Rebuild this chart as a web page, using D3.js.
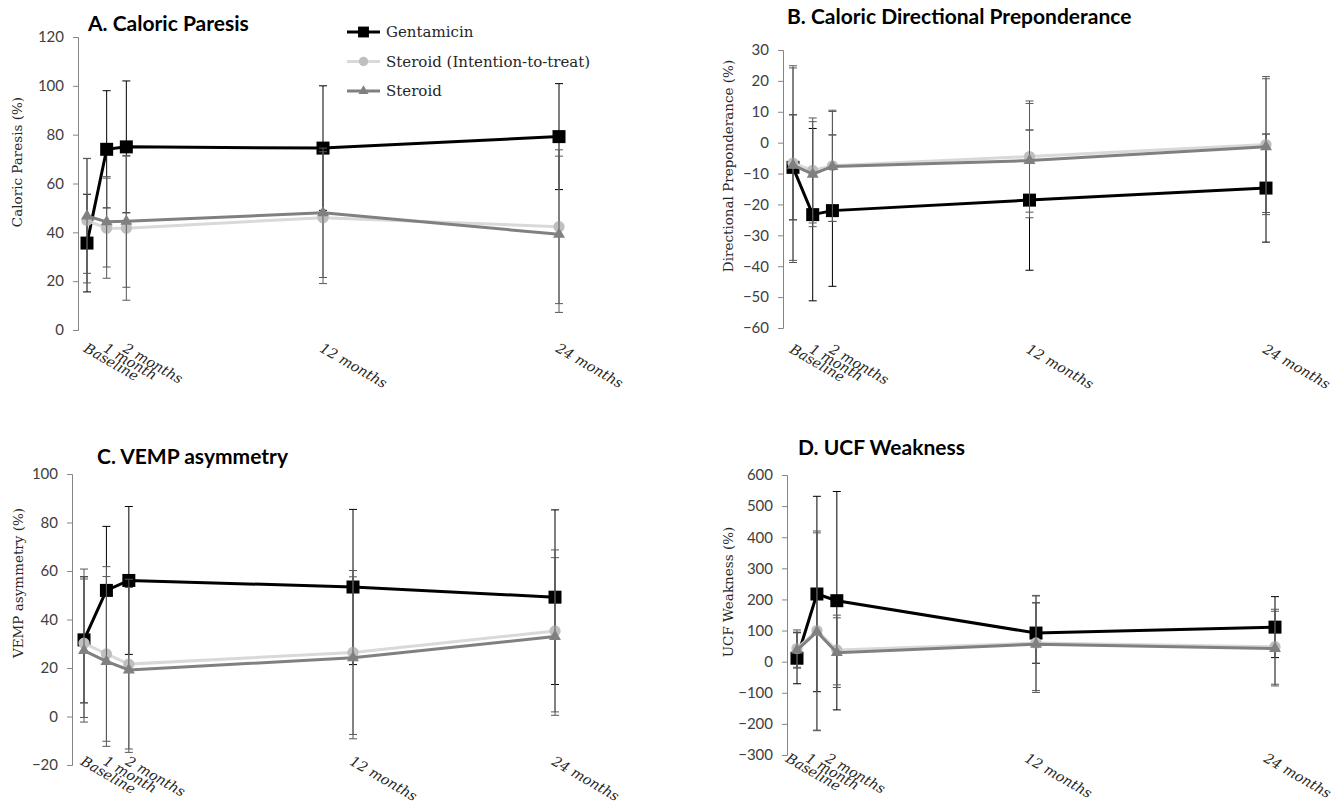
<!DOCTYPE html>
<html>
<head>
<meta charset="utf-8">
<title>Outcomes over time</title>
<style>
  body { margin: 0; background: #fff; }
  svg { display: block; }
  .ttl { font-family: Lato, "Open Sans", sans-serif; font-weight: bold; font-size: 21px; fill: #000; }
  .tick-lbl { font-family: Lato, sans-serif; font-size: 15px; fill: #404040; }
  .ylab { font-family: "DejaVu Serif", serif; font-size: 13.5px; fill: #262626; }
  .xlab { font-family: "DejaVu Serif", serif; font-style: italic; font-size: 14px; fill: #262626; }
  .leg { font-family: "DejaVu Serif", serif; font-size: 15px; fill: #262626; }
</style>
</head>
<body>
<svg id="chart" width="1336" height="804"></svg>
<script src="https://cdn.jsdelivr.net/npm/d3@7"></script>
<script>
// time points (months) and their labels
const months = [0, 1, 2, 12, 24];
const monthLabels = ["Baseline", "1 month", "2 months", "12 months", "24 months"];
const seriesNames = ["Gentamicin", "Steroid (Intention-to-treat)", "Steroid"];

// A. caloric paresis (%) - mean and SD
const paresisGent = [35.6, 74, 75, 74.5, 79.2];
const paresisGentSd = [20, 24, 27, 25.5, 21.7];
const paresisItt = [44.8, 41.7, 41.7, 46, 42.3];
const paresisIttSd = [25.5, 20.5, 29.5, 27, 31.5];
const paresisSteroid = [46.7, 44.3, 44.5, 48, 39.2];
const paresisSteroidSd = [23.5, 18.5, 27, 26.5, 32];

// B. directional preponderance (%)
const dpGent = [-8, -23.3, -22, -18.6, -14.7];
const dpGentSd = [17, 27.9, 24.5, 22.7, 17.5];
const dpItt = [-6.6, -9, -7.5, -4.5, -0.6];
const dpIttSd = [31.5, 17, 18, 18, 22];
const dpSteroid = [-7.3, -10.2, -7.7, -5.8, -1.3];
const dpSteroidSd = [31.5, 17, 17.8, 18.5, 22];

// C. VEMP asymmetry (%)
const vempGent = [31.6, 52, 56.1, 53.4, 49.2];
const vempGentSd = [26, 26.4, 30.5, 32, 36];
const vempItt = [30.2, 25.8, 21.6, 26.4, 35.3];
const vempIttSd = [30.6, 36, 35, 33.8, 33.4];
const vempSteroid = [27.2, 22.7, 19.2, 24.2, 33];
const vempSteroidSd = [29.5, 35, 34, 33.4, 32.5];

// D. UCF weakness (%)
const ucfGent = [11, 217.5, 196, 92, 111];
const ucfGentSd = [82, 314, 351, 97, 98];
const ucfItt = [42, 100, 37.5, 60, 48];
const ucfIttSd = [60, 320, 112, 153, 120.5];
const ucfSteroid = [37, 96, 29, 56, 42];
const ucfSteroidSd = [58, 318, 112, 155, 120];

// look of each series
const styles = [
  { line: "#000000", mark: "#000000", bar: "#000000", sym: d3.symbolSquare, size: 169, lw: 3 },
  { line: "#d9d9d9", mark: "#bfbfbf", bar: "#595959", sym: d3.symbolCircle, size: 100, lw: 3 },
  { line: "#808080", mark: "#808080", bar: "#595959", sym: d3.symbolTriangle, size: 62, lw: 3 }
];

// lo / ls = vertical / horizontal shift of the slanted month labels
const panels = [
  { title: "A. Caloric Paresis", ylab: "Caloric Paresis (%)", dom: [0, 120], step: 20,
    ax: 78, top: 37, bot: 330, xDom: [0, 24], xRng: [87, 559], lo: 12, ls: 1,
    tx: 88, ty: 31, lx: 17, ly: 162,
    means: [paresisGent, paresisItt, paresisSteroid], sds: [paresisGentSd, paresisIttSd, paresisSteroidSd] },
  { title: "B. Caloric Directional Preponderance", ylab: "Directional Preponderance (%)", dom: [-60, 30], step: 10,
    ax: 783, top: 50, bot: 328, xDom: [0, 24], xRng: [793, 1266], lo: 15, ls: 1,
    tx: 787, ty: 24, lx: 728, ly: 166,
    means: [dpGent, dpItt, dpSteroid], sds: [dpGentSd, dpIttSd, dpSteroidSd] },
  { title: "C. VEMP asymmetry", ylab: "VEMP asymmetry (%)", dom: [-20, 100], step: 20,
    ax: 72, top: 474, bot: 765, xDom: [0, 12, 24], xRng: [84, 353, 555], lo: -10, ls: 1,
    tx: 97, ty: 464, lx: 18, ly: 583,
    means: [vempGent, vempItt, vempSteroid], sds: [vempGentSd, vempIttSd, vempSteroidSd] },
  { title: "D. UCF Weakness", ylab: "UCF Weakness (%)", dom: [-300, 600], step: 100,
    ax: 787, top: 475, bot: 755, xDom: [0, 24], xRng: [797, 1275], lo: -3, ls: -7,
    tx: 798, ty: 455, lx: 728, ly: 592,
    means: [ucfGent, ucfItt, ucfSteroid], sds: [ucfGentSd, ucfIttSd, ucfSteroidSd] }
];

const svg = d3.select("#chart");

panels.forEach(p => {
  const g = svg.append("g");
  const x = d3.scaleLinear().domain(p.xDom).range(p.xRng);
  const y = d3.scaleLinear().domain(p.dom).range([p.bot, p.top]);

  // title
  g.append("text").attr("class", "ttl").attr("x", p.tx).attr("y", p.ty).text(p.title);

  // y axis
  const yAxis = d3.axisLeft(y).tickValues(d3.range(p.dom[0], p.dom[1] + 1, p.step))
    .tickSize(5).tickPadding(9).tickFormat(d3.format("d"));
  const ag = g.append("g").attr("transform", `translate(${p.ax},0)`).call(yAxis);
  ag.select(".domain").attr("stroke", "#868686");
  ag.selectAll(".tick line").attr("stroke", "#868686");
  ag.selectAll(".tick text").attr("class", "tick-lbl").attr("fill", null).attr("font-family", null).attr("font-size", null);

  g.append("text").attr("class", "ylab")
    .attr("transform", `translate(${p.lx},${p.ly}) rotate(-90)`)
    .attr("text-anchor", "middle").attr("dy", "0.35em").text(p.ylab);

  // x labels, slanted
  g.selectAll(".xlab").data(months).enter().append("text")
    .attr("class", "xlab")
    .attr("transform", d => `translate(${x(d) + p.ls},${p.bot + p.lo}) rotate(30)`)
    .attr("dy", "0.75em")
    .text((d, i) => monthLabels[i]);

  const line = d3.line().x(d => x(d.m)).y(d => y(d.v));

  p.means.forEach((vals, s) => {
    const st = styles[s];
    const pts = months.map((m, i) => ({ m: m, v: vals[i], sd: p.sds[s][i] }));
    const sg = g.append("g");

    // error bars
    const eb = sg.selectAll(".eb").data(pts).enter().append("g").attr("stroke", st.bar).attr("stroke-width", 1);
    eb.append("line").attr("x1", d => x(d.m)).attr("x2", d => x(d.m))
      .attr("y1", d => y(d.v - d.sd)).attr("y2", d => y(d.v + d.sd));
    eb.append("line").attr("x1", d => x(d.m) - 4).attr("x2", d => x(d.m) + 4)
      .attr("y1", d => y(d.v + d.sd)).attr("y2", d => y(d.v + d.sd));
    eb.append("line").attr("x1", d => x(d.m) - 4).attr("x2", d => x(d.m) + 4)
      .attr("y1", d => y(d.v - d.sd)).attr("y2", d => y(d.v - d.sd));

    sg.append("path").datum(pts).attr("d", line)
      .attr("fill", "none").attr("stroke", st.line).attr("stroke-width", st.lw);

    sg.selectAll(".mk").data(pts).enter().append("path")
      .attr("d", d3.symbol().type(st.sym).size(st.size)())
      .attr("fill", st.mark)
      .attr("transform", d => `translate(${x(d.m)},${y(d.v)})`);
  });
});

// legend
const lg = svg.append("g").attr("transform", "translate(347,32)");
seriesNames.forEach((name, i) => {
  const st = styles[i];
  const row = lg.append("g").attr("transform", `translate(0,${i * 29.5})`);
  row.append("line").attr("x1", 0).attr("x2", 33).attr("stroke", st.line).attr("stroke-width", st.lw);
  row.append("path").attr("d", d3.symbol().type(st.sym).size(st.size * 0.7)())
    .attr("fill", st.mark).attr("transform", "translate(16.5,0)");
  row.append("text").attr("class", "leg").attr("x", 39).attr("dy", "0.35em").text(name);
});
</script>
</body>
</html>
